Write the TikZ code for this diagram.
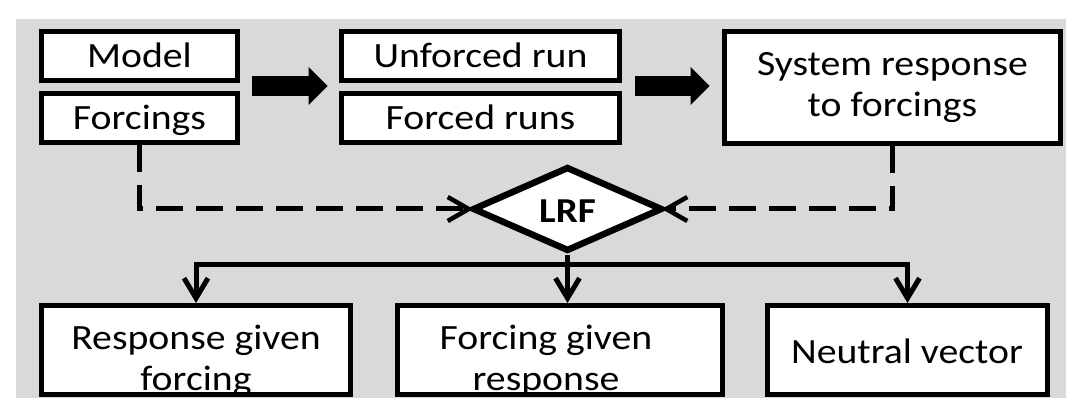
\documentclass[tikz,border=0pt]{standalone}
\usepackage{fontspec}
\setmainfont{Carlito}[FakeStretch=1.12]
\usetikzlibrary{arrows.meta,shapes.geometric}
\definecolor{bggray}{HTML}{D9D9D9}
\begin{document}
\begin{tikzpicture}[x=1pt,y=-1pt,
  txtfont/.style={font=\fontsize{35.5}{41}\selectfont},
  box/.style={draw, line width=5pt, fill=white, align=center, inner sep=0pt, txtfont},
  oneline/.style={text height=22.5pt, text depth=0pt},
  lbl/.style={align=center, inner sep=0pt, txtfont},
  bigarrow/.style={line width=20pt, -{Triangle[length=19pt,width=38pt,line width=0pt]}},
  dashline/.style={line width=5pt, dash pattern=on 27pt off 13pt,
    -{Straight Barb[length=21pt,width=24pt,line width=4.5pt]}},
  tree/.style={line width=5pt, -{Straight Barb[length=20pt,width=24pt,line width=5pt]}}
]
\useasboundingbox (0,0) rectangle (1066,398);
\fill[bggray] (16,19) rectangle (1066,398);

% top row
\node[box, oneline, minimum width=196pt, minimum height=49pt] (model) at (139.5,56) {Model};
\node[box, oneline, minimum width=196pt, minimum height=49pt] (forcings) at (139.5,118) {Forcings};
\node[box, oneline, minimum width=278pt, minimum height=49pt] (unforced) at (480.5,56) {Unforced run};
\node[box, oneline, minimum width=278pt, minimum height=49pt] (forced) at (480.5,118) {Forced runs};
\node[box, minimum width=336pt, minimum height=112pt] (system) at (892.5,87.5) {System response\\to forcings};

\coordinate (midrow) at (0,86);
\draw[bigarrow] ([xshift=11.5pt]model.east |- midrow) -- ([xshift=-11.5pt]unforced.west |- midrow);
\draw[bigarrow] ([xshift=12.5pt]unforced.east |- midrow) -- ([xshift=-12.5pt]system.west |- midrow);

% LRF diamond
\node[diamond, draw, line width=6.5pt, fill=white, inner sep=0pt,
  minimum width=190pt, minimum height=82pt, text height=28pt, text depth=0pt,
  font=\bfseries\fontsize{35}{40}\selectfont] (lrf) at (567.5,209) {LRF};

\draw[dashline, shorten >=-4pt] (forcings.south) -- (forcings.south |- lrf.west) -- (lrf.west);
\draw[dashline, shorten >=-4pt] (system.south) -- (system.south |- lrf.east) -- (lrf.east);

% bottom row
\node[box, minimum width=309pt, minimum height=89pt] (rgf) at (196,350) {};
\node[box, minimum width=325pt, minimum height=89pt] (fgr) at (560,350) {};
\node[box, minimum width=280pt, minimum height=89pt] (nv) at (907.5,350) {};
\node[lbl] (rgftext) at (196,361) {Response given\\forcing};
\node[lbl] (fgrtext) at (546,361) {Forcing given\\response};
\node[lbl, oneline] (nvtext) at (907,352) {Neutral vector};

\coordinate (bus) at (0,265);
\draw[tree] (lrf.south) -- (lrf.south |- bus) -| (rgf.north);
\draw[tree] (lrf.south) -- (lrf.south |- fgr.north);
\draw[tree] (lrf.south) -- (lrf.south |- bus) -| (nv.north);
\end{tikzpicture}
\end{document}
